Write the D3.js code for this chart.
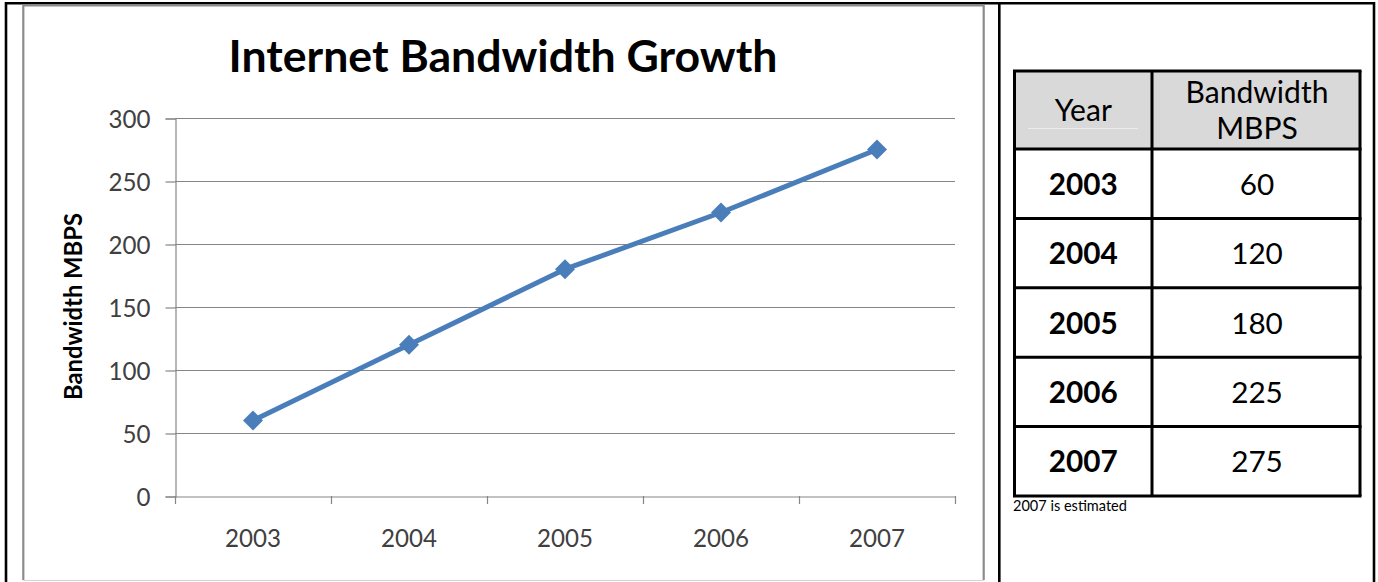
<!DOCTYPE html>
<html><head><meta charset="utf-8">
<script src="https://cdn.jsdelivr.net/npm/d3@7"></script>
<style>
html,body{margin:0;padding:0;background:#fff;}
svg{display:block;}
</style></head>
<body>
<script>
const title = "Internet Bandwidth Growth";
const yAxisTitle = "Bandwidth MBPS";
const years = ["2003","2004","2005","2006","2007"];
const bandwidth = [60,120,180,225,275];
const yTicks = [0,50,100,150,200,250,300];
const tableHeaderYear = "Year";
const tableHeaderBw = ["Bandwidth","MBPS"];
const footnote = "2007 is estimated";

const W = 1378, H = 582;
const chartFont = "Lato, 'Open Sans', sans-serif";
const tableFont = "Lato, 'Noto Sans', sans-serif";
const svg = d3.select("body").append("svg").attr("width", W).attr("height", H);

function fit(sel, target){
  const n = sel.node();
  const fs = parseFloat(sel.attr("font-size"));
  const w = n.getComputedTextLength();
  if (w > 0) sel.attr("font-size", fs * target / w);
  return sel;
}

// outer black frame
svg.append("path").attr("d", `M6,${H+5} V3.3 H1374 V${H+5}`).attr("fill","none").attr("stroke","#000").attr("stroke-width",2.6);
svg.append("line").attr("x1",999.3).attr("x2",999.3).attr("y1",3.3).attr("y2",H+5).attr("stroke","#000").attr("stroke-width",2.6);

// chart frame
svg.append("path").attr("d","M23.3,580 V5.5 H983.7 V580").attr("fill","none").attr("stroke","#8c8c8c").attr("stroke-width",2.2);
svg.append("line").attr("x1",23.3).attr("x2",983.7).attr("y1",580.5).attr("y2",580.5).attr("stroke","#d4d4d4").attr("stroke-width",1.2);

// scales
const x = d3.scaleBand().domain(years).range([175, 955]);
const y = d3.scaleLinear().domain([0, 300]).range([496, 118]);

// gridlines
svg.append("g").selectAll("line").data(yTicks.filter(t=>t>0)).join("line")
  .attr("x1",175).attr("x2",955).attr("y1",d=>y(d)+0.5).attr("y2",d=>y(d)+0.5)
  .attr("stroke","#868686").attr("stroke-width",1.2);

// y axis
const yAxis = svg.append("g").attr("transform","translate(175.5,0.5)")
  .call(d3.axisLeft(y).tickValues(yTicks).tickSize(10).tickPadding(15));
yAxis.select(".domain").attr("stroke","#868686").attr("stroke-width",1.2);
yAxis.selectAll(".tick line").attr("stroke","#868686").attr("stroke-width",1.2);
yAxis.selectAll("text").attr("font-family",chartFont).attr("font-size",20).attr("fill","#404040").attr("dy","0.36em");
yAxis.selectAll(".tick text").each(function(){ if (this.textContent === "300") fit(d3.select(this), 42); });
const yfs = yAxis.selectAll(".tick text").filter(function(){return this.textContent==="300";}).attr("font-size");
yAxis.selectAll(".tick text").attr("font-size", yfs);

// x axis
const xAxis = svg.append("g").attr("transform","translate(0,496.5)")
  .call(d3.axisBottom(x).tickSize(0).tickPadding(0));
xAxis.select(".domain").attr("stroke","#868686").attr("stroke-width",1.2).attr("d","M175,0.5H955");
xAxis.selectAll(".tick text").attr("font-family",chartFont).attr("font-size",yfs).attr("fill","#404040")
  .attr("dy",0).attr("y",50.5);
// category tick marks at band boundaries
const bounds = years.map(d=>x(d)).concat([x(years[years.length-1]) + x.bandwidth()]);
svg.append("g").selectAll("line").data(bounds).join("line")
  .attr("x1",d=>d+0.5).attr("x2",d=>d+0.5).attr("y1",496).attr("y2",504)
  .attr("stroke","#868686").attr("stroke-width",1.2);

// title
const t = svg.append("text").attr("x",503).attr("y",72).attr("text-anchor","middle")
  .attr("font-family",chartFont).attr("font-weight","bold").attr("font-size",36).attr("fill","#000").text(title);
fit(t, 549);

// y axis title
const yt = svg.append("text").attr("transform","translate(82,306.5) rotate(-90)").attr("text-anchor","middle")
  .attr("font-family",chartFont).attr("font-weight","bold").attr("font-size",18).attr("fill","#000").text(yAxisTitle);
fit(yt, 187);

// line
const pts = years.map((d,i)=>[x(d)+x.bandwidth()/2, y(bandwidth[i])]);
svg.append("path").attr("d", d3.line()(pts)).attr("fill","none").attr("stroke","#4a7ebb").attr("stroke-width",5).attr("stroke-linejoin","round");
svg.append("g").selectAll("path").data(pts).join("path")
  .attr("d", d3.symbol(d3.symbolSquare, 200)())
  .attr("transform", d=>`translate(${d[0]},${d[1]}) rotate(45)`)
  .attr("fill","#4a7ebb");

// table
const tx0 = 1014.5, tx1 = 1152, tx2 = 1360;
const hy0 = 71, hy1 = 149, ty1 = 496;
const rows = d3.scaleBand().domain(years).range([hy1, ty1]);
const tg = svg.append("g");
tg.append("rect").attr("x",tx0).attr("y",hy0).attr("width",tx2-tx0).attr("height",hy1-hy0).attr("fill","#d9d9d9");
// faint underline under Year
tg.append("line").attr("x1",1028).attr("x2",1138).attr("y1",128.5).attr("y2",128.5).attr("stroke","#ececec").attr("stroke-width",1);
const ty = tg.append("text").attr("x",(tx0+tx1)/2).attr("y",121).attr("text-anchor","middle")
  .attr("font-family",tableFont).attr("font-size",26).attr("fill","#000").text(tableHeaderYear);
const hb = tg.append("text").attr("x",(tx1+tx2)/2+1).attr("y",103).attr("text-anchor","middle")
  .attr("font-family",tableFont).attr("font-size",26).attr("fill","#000").text(tableHeaderBw[0]);
fit(hb, 143);
const hfs = hb.attr("font-size");
ty.attr("font-size", hfs);
tg.append("text").attr("x",(tx1+tx2)/2+1).attr("y",139).attr("text-anchor","middle")
  .attr("font-family",tableFont).attr("font-size",hfs).attr("fill","#000").text(tableHeaderBw[1]);

const yearTexts = tg.append("g").selectAll("text").data(years).join("text")
  .attr("x",(tx0+tx1)/2).attr("y",d=>rows(d)+rows.bandwidth()/2+11).attr("text-anchor","middle")
  .attr("font-family",tableFont).attr("font-weight","bold").attr("font-size",26).attr("fill","#000").text(d=>d);
fit(d3.select(yearTexts.nodes()[0]), 69);
const rfs = d3.select(yearTexts.nodes()[0]).attr("font-size");
yearTexts.attr("font-size", rfs);
tg.append("g").selectAll("text").data(years).join("text")
  .attr("x",(tx1+tx2)/2+1).attr("y",d=>rows(d)+rows.bandwidth()/2+11).attr("text-anchor","middle")
  .attr("font-family",tableFont).attr("font-size",rfs).attr("fill","#000").text((d,i)=>bandwidth[i]);

// table grid lines
const hLines = [hy0, hy1].concat(years.map(d=>rows(d)+rows.bandwidth()));
tg.append("g").selectAll("line").data(hLines).join("line")
  .attr("x1",tx0-1.5).attr("x2",tx2+1.5).attr("y1",d=>d).attr("y2",d=>d)
  .attr("stroke","#000").attr("stroke-width",3);
tg.append("g").selectAll("line").data([tx0, tx1, tx2]).join("line")
  .attr("x1",d=>d).attr("x2",d=>d).attr("y1",hy0).attr("y2",ty1)
  .attr("stroke","#000").attr("stroke-width",3);

// footnote
const fn = svg.append("text").attr("x",1013).attr("y",511).attr("font-family",tableFont).attr("font-size",13)
  .attr("fill","#000").text(footnote);
fit(fn, 114);
</script>
</body></html>
